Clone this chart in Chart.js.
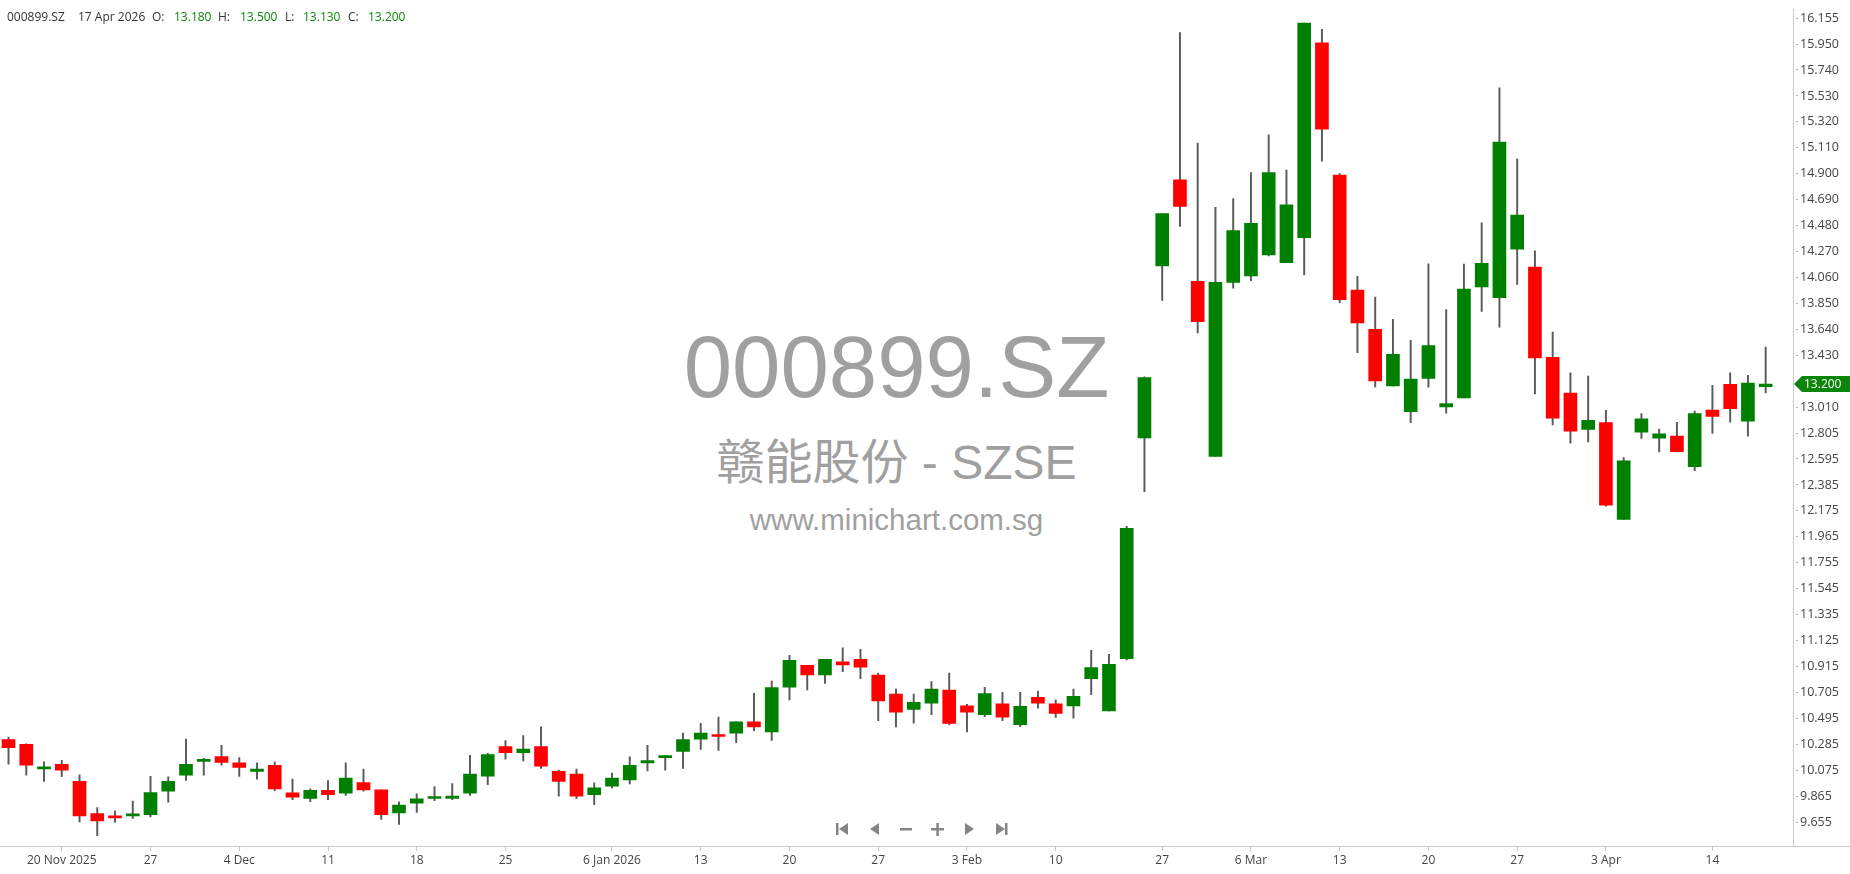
<!DOCTYPE html>
<html>
<head>
<meta charset="utf-8">
<title>000899.SZ</title>
<script src="https://cdn.jsdelivr.net/npm/chart.js@4.4.1/dist/chart.umd.min.js"></script>
<style>
  html, body { margin:0; padding:0; background:#fff; }
  #wrap { position:relative; width:1850px; height:874px; overflow:hidden; }
  #wrap canvas { position:absolute; left:0; top:0; z-index:1; }
  .hdr { position:absolute; top:9px; z-index:2; font-size:12px; font-family:'Open Sans', sans-serif; line-height:16px; color:#333; white-space:nowrap; }
  .hdr.g { color:#0a850a; }
  .wm { position:absolute; left:0; width:1793px; text-align:center; color:#a0a0a0; z-index:0; white-space:nowrap; line-height:1; font-family:'Liberation Sans', Arial, 'Noto Sans CJK SC', sans-serif; }
</style>
</head>
<body>
<div id="wrap">
  <div class="wm" style="top:323px; font-size:87px;">000899.SZ</div>
  <div class="wm" style="top:439px; font-size:48px;">赣能股份 - SZSE</div>
  <div class="wm" style="top:505px; font-size:29.5px;">www.minichart.com.sg</div>

  <span class="hdr" style="left:7px">000899.SZ</span>
  <span class="hdr" style="left:78px">17 Apr 2026</span>
  <span class="hdr" style="left:152px">O:</span>
  <span class="hdr g" style="left:174px">13.180</span>
  <span class="hdr" style="left:218px">H:</span>
  <span class="hdr g" style="left:240px">13.500</span>
  <span class="hdr" style="left:285px">L:</span>
  <span class="hdr g" style="left:303px">13.130</span>
  <span class="hdr" style="left:348px">C:</span>
  <span class="hdr g" style="left:368px">13.200</span>

  <canvas id="chart" width="1850" height="874"></canvas>
</div>

<script>
// daily bars, 17 Nov 2025 .. 17 Apr 2026 (index = trading day)
const opens = [
  10.327, 10.287, 10.090, 10.127, 9.989, 9.728, 9.700, 9.709, 9.720, 9.909,
  10.039, 10.149, 10.189, 10.138, 10.069, 10.119, 9.896, 9.850, 9.917, 9.893,
  9.978, 9.920, 9.733, 9.813, 9.850, 9.850, 9.893, 10.031, 10.269, 10.221,
  10.269, 10.069, 10.047, 9.880, 9.949, 10.000, 10.138, 10.181, 10.231, 10.330,
  10.367, 10.378, 10.469, 10.389, 10.751, 10.927, 10.849, 10.956, 10.975, 10.847,
  10.695, 10.570, 10.620, 10.727, 10.599, 10.527, 10.615, 10.447, 10.668, 10.615,
  10.599, 10.818, 10.559, 10.980, 12.765, 14.156, 14.851, 14.031, 12.616, 14.023,
  14.076, 14.244, 14.183, 14.385, 15.960, 14.891, 13.961, 13.644, 13.186, 12.978,
  13.247, 13.016, 13.088, 13.987, 13.900, 14.291, 14.147, 13.417, 13.127, 12.834,
  12.890, 12.106, 12.812, 12.764, 12.780, 12.533, 12.991, 13.199, 12.900, 13.180
];
const highs = [
  10.346, 10.293, 10.146, 10.159, 10.042, 9.776, 9.749, 9.829, 10.029, 10.026,
  10.330, 10.175, 10.279, 10.181, 10.138, 10.146, 10.007, 9.928, 9.994, 10.138,
  10.087, 9.920, 9.824, 9.888, 9.946, 9.970, 10.199, 10.215, 10.319, 10.359,
  10.429, 10.079, 10.087, 9.976, 10.055, 10.186, 10.279, 10.199, 10.378, 10.458,
  10.508, 10.469, 10.700, 10.799, 11.007, 10.927, 10.975, 11.068, 11.057, 10.865,
  10.735, 10.695, 10.796, 10.865, 10.612, 10.748, 10.708, 10.708, 10.719, 10.647,
  10.735, 11.047, 11.015, 12.050, 13.260, 14.580, 16.042, 15.150, 14.630, 14.700,
  14.910, 15.216, 14.931, 16.120, 16.069, 14.902, 14.071, 13.903, 13.724, 13.554,
  14.172, 13.802, 14.170, 14.504, 15.595, 15.019, 14.278, 13.620, 13.292, 13.265,
  12.988, 12.607, 12.962, 12.836, 12.892, 12.983, 13.191, 13.292, 13.271, 13.500
];
const lows = [
  10.127, 10.039, 9.989, 10.026, 9.661, 9.549, 9.658, 9.688, 9.701, 9.821,
  9.997, 10.039, 10.119, 10.029, 10.007, 9.914, 9.840, 9.824, 9.840, 9.874,
  9.909, 9.680, 9.640, 9.738, 9.832, 9.840, 9.874, 9.962, 10.167, 10.154,
  10.093, 9.869, 9.848, 9.800, 9.936, 9.968, 10.074, 10.079, 10.093, 10.247,
  10.239, 10.301, 10.399, 10.319, 10.647, 10.727, 10.780, 10.876, 10.818, 10.479,
  10.429, 10.460, 10.527, 10.447, 10.389, 10.511, 10.479, 10.431, 10.580, 10.506,
  10.500, 10.690, 10.559, 10.970, 12.330, 13.876, 14.476, 13.615, 12.616, 13.975,
  14.036, 14.236, 14.183, 14.084, 15.003, 13.858, 13.455, 13.178, 13.186, 12.888,
  13.175, 12.965, 13.088, 13.788, 13.660, 14.006, 13.122, 12.871, 12.722, 12.732,
  12.213, 12.106, 12.762, 12.653, 12.655, 12.501, 12.802, 12.892, 12.780, 13.130
];
const closes = [
  10.261, 10.119, 10.094, 10.079, 9.709, 9.669, 9.693, 9.720, 9.898, 9.989,
  10.127, 10.167, 10.141, 10.101, 10.087, 9.928, 9.861, 9.917, 9.880, 10.015,
  9.920, 9.720, 9.797, 9.848, 9.858, 9.869, 10.047, 10.205, 10.221, 10.250,
  10.111, 9.989, 9.869, 9.936, 10.015, 10.119, 10.157, 10.191, 10.327, 10.378,
  10.351, 10.469, 10.429, 10.746, 10.967, 10.849, 10.975, 10.929, 10.911, 10.639,
  10.548, 10.628, 10.735, 10.458, 10.548, 10.698, 10.508, 10.596, 10.620, 10.538,
  10.676, 10.908, 10.935, 12.035, 13.253, 14.580, 14.636, 13.706, 14.023, 14.441,
  14.500, 14.910, 14.649, 16.120, 15.262, 13.884, 13.695, 13.226, 13.442, 13.242,
  13.511, 13.042, 13.969, 14.177, 15.157, 14.566, 13.412, 12.924, 12.820, 12.908,
  12.221, 12.581, 12.919, 12.799, 12.655, 12.962, 12.940, 13.002, 13.209, 13.200
];

// date labels on the time axis and the bar they sit under
const xTickBars = [3, 8, 13, 18, 23, 28, 34, 39, 44, 49, 54, 59, 65, 70, 75, 80, 85, 90, 96];
const xTickLabels = ['20 Nov 2025', '27', '4 Dec', '11', '18', '25', '6 Jan 2026', '13', '20', '27',
  '3 Feb', '10', '27', '6 Mar', '13', '20', '27', '3 Apr', '14'];

// price scale labels (13.220 sits under the last-price tag)
const yTicks = [16.155, 15.950, 15.740, 15.530, 15.320, 15.110, 14.900, 14.690, 14.480, 14.270,
  14.060, 13.850, 13.640, 13.430, 13.010, 12.805, 12.595, 12.385, 12.175, 11.965,
  11.755, 11.545, 11.335, 11.125, 10.915, 10.705, 10.495, 10.285, 10.075, 9.865, 9.655];

const UP = '#008000', DOWN = '#ff0000';
const idx = opens.map((_, i) => i);
const bodyColors = idx.map(i => closes[i] >= opens[i] ? UP : DOWN);

const extras = {
  id: 'extras',
  afterDraw(chart) {
    const { ctx, chartArea: a } = chart;
    const y = chart.scales.y;
    ctx.save();
    // time axis line runs on under the price scale
    ctx.strokeStyle = '#c8c8c8'; ctx.lineWidth = 1;
    ctx.beginPath(); ctx.moveTo(a.right, a.bottom + 0.5); ctx.lineTo(chart.width, a.bottom + 0.5); ctx.stroke();

    // last price tag
    const last = closes[closes.length - 1];
    const py = Math.round(y.getPixelForValue(last));
    ctx.fillStyle = '#0a850a';
    ctx.beginPath();
    ctx.moveTo(a.right + 1, py);
    ctx.lineTo(a.right + 9, py - 8);
    ctx.lineTo(chart.width, py - 8);
    ctx.lineTo(chart.width, py + 8);
    ctx.lineTo(a.right + 9, py + 8);
    ctx.closePath(); ctx.fill();
    ctx.fillStyle = '#fff';
    ctx.font = '12px "Open Sans"';
    ctx.textAlign = 'left'; ctx.textBaseline = 'middle';
    ctx.fillText(last.toFixed(3), a.right + 11, py + 1);

    // navigation buttons
    ctx.fillStyle = '#858585';
    const cy = 829;
    const tri = (x1, x2) => { ctx.beginPath(); ctx.moveTo(x1, cy - 6); ctx.lineTo(x1, cy + 6); ctx.lineTo(x2, cy); ctx.closePath(); ctx.fill(); };
    ctx.fillRect(836, cy - 6, 2.5, 12); tri(848, 839);
    tri(879, 870);
    ctx.fillRect(900, cy - 1, 12, 2.5);
    ctx.fillRect(931, cy - 1, 13, 2.5); ctx.fillRect(936.3, cy - 6, 2.5, 13);
    tri(965, 974);
    tri(996, 1005); ctx.fillRect(1005, cy - 6, 2.5, 12);
    ctx.restore();
  }
};

new Chart(document.getElementById('chart'), {
  type: 'bar',
  data: {
    datasets: [
      {
        label: 'body',
        data: idx.map(i => ({ x: i, y: [opens[i], closes[i]] })),
        backgroundColor: bodyColors,
        barThickness: 13,
        minBarLength: 2,
        grouped: false,
        order: 1
      },
      {
        label: 'wick',
        data: idx.map(i => ({ x: i, y: [lows[i], highs[i]] })),
        backgroundColor: '#5a5a5a',
        barThickness: 1.3,
        grouped: false,
        order: 2
      }
    ]
  },
  options: {
    responsive: false,
    animation: false,
    layout: { padding: 0 },
    plugins: { legend: { display: false }, tooltip: { enabled: false } },
    scales: {
      x: {
        type: 'linear',
        min: -0.48, max: 100.54,
        offset: false,
        afterBuildTicks: s => { s.ticks = xTickBars.map(v => ({ value: v })); },
        afterFit: s => { s.height = 28; },
        grid: { offset: false, drawOnChartArea: false, drawTicks: true, tickLength: 5, tickColor: '#c8c8c8' },
        border: { display: true, color: '#c8c8c8' },
        ticks: {
          autoSkip: false, maxRotation: 0, padding: 2, color: '#444',
          font: { family: 'Open Sans', size: 12 },
          callback: v => xTickLabels[xTickBars.indexOf(v)]
        }
      },
      y: {
        position: 'right',
        min: 9.466, max: 16.229,
        afterBuildTicks: s => { s.ticks = yTicks.map(v => ({ value: v })); },
        afterFit: s => { s.width = 57; },
        grid: { drawOnChartArea: false, drawTicks: true, tickLength: 5, tickColor: '#b0b0b0', tickBorderDash: [2, 3], tickBorderDashOffset: 3 },
        border: { display: true, color: '#c8c8c8' },
        ticks: {
          autoSkip: false, padding: 2, color: '#444',
          font: { family: 'Open Sans', size: 12.5 },
          callback: v => v.toFixed(3)
        }
      }
    }
  },
  plugins: [extras]
});
</script>
</body>
</html>
